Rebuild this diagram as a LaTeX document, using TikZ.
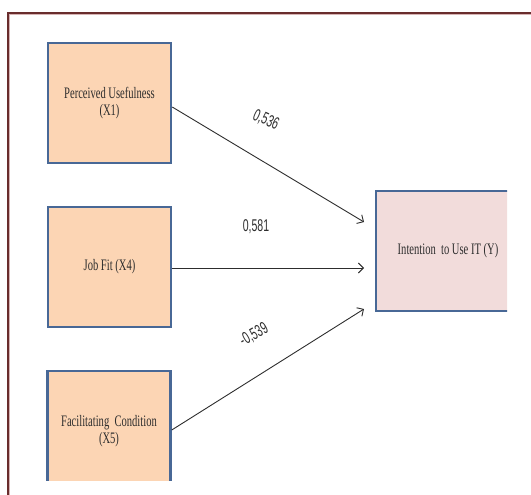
\documentclass[tikz,border=0pt]{standalone}
\usepackage{fontspec}
\newfontfamily\boxfont[FakeStretch=0.66]{Liberation Serif}
\newfontfamily\numfont[FakeStretch=0.62]{Liberation Sans}
\usetikzlibrary{arrows.meta}
\definecolor{peach}{RGB}{252,213,180}
\definecolor{rose}{RGB}{242,220,219}
\definecolor{edgeblue}{RGB}{72,104,150}
\definecolor{framered}{RGB}{105,45,45}
\definecolor{framepink}{RGB}{215,180,180}
\definecolor{inkgray}{RGB}{45,45,45}
\tikzset{
  varbox/.style={draw=edgeblue,line width=2.5pt,fill=peach,minimum width=123pt,
    minimum height=120pt,inner sep=0pt,align=center,text=inkgray,
    font=\boxfont\fontsize{16}{17}\selectfont},
  linkarrow/.style={-{Straight Barb[length=5pt,width=10pt]},line width=0.9pt,inkgray},
  coeff/.style={text=inkgray,font=\numfont\fontsize{17}{18}\selectfont}
}
\begin{document}
\begin{tikzpicture}[x=1pt,y=-1pt]
  \useasboundingbox (0,0) rectangle (531,495);
  \clip (0,0) rectangle (531,495);
  % frame
  \draw[line width=2.4pt,framepink] (8.6,500) |- (540,13.6);
  \draw[line width=1.3pt,framered] (8,500) |- (540,13);
  % variables
  \begin{scope}
    \clip (0,0) rectangle (507,480);
    \node[varbox] (x1) at (109.5,103) {Perceived Usefulness\\(X1)};
    \node[varbox] (x4) at (109.5,267) {Job Fit (X4)};
    \node[varbox] (x5) at (109,431) {Facilitating\ \ Condition\\(X5)};
    \node[varbox,fill=rose,minimum width=144pt] (y) at (448,251)
      {Intention\ \ to Use IT (Y)};
  \end{scope}
  % paths
  \coordinate (t1) at (364,222);
  \coordinate (t4) at (364,268);
  \coordinate (t5) at (364,309);
  \draw[linkarrow] ([yshift=-4pt]x1.east) -- (t1);
  \draw[linkarrow] ([yshift=-1pt]x4.east) -- (t4);
  \draw[linkarrow] ([yshift=1pt]x5.east) -- (t5);
  \node[coeff,rotate=-24] (c1) at (266,120) {0,536};
  \node[coeff] (c4) at (256,227) {0,581};
  \node[coeff,rotate=30] (c5) at (254,335) {-0,539};
\end{tikzpicture}
\end{document}
